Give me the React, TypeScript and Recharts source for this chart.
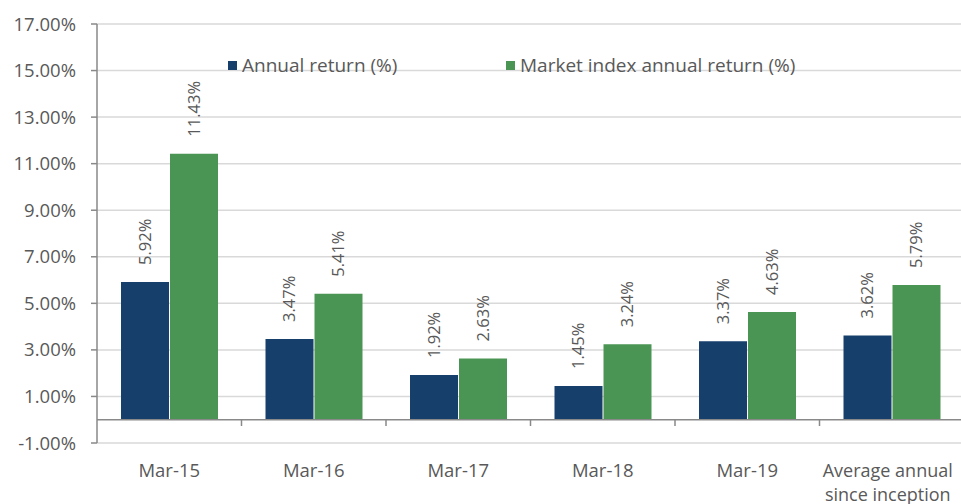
import React from 'react';
import { BarChart, Bar, XAxis, YAxis, CartesianGrid, ReferenceLine, LabelList, Legend } from 'recharts';

const categories = ['Mar-15', 'Mar-16', 'Mar-17', 'Mar-18', 'Mar-19', 'Average annual\nsince inception'];
const annualReturn = [5.92, 3.47, 1.92, 1.45, 3.37, 3.62];
const marketReturn = [11.43, 5.41, 2.63, 3.24, 4.63, 5.79];
const yTicks = [-1, 1, 3, 5, 7, 9, 11, 13, 15, 17];
const seriesNames = ['Annual return (%)', 'Market index annual return (%)'];
const seriesColors = ['#163F6B', '#4A9553'];

const FONT = '"Open Sans", "Noto Sans", sans-serif';
const TEXT = '#595959';
const AXIS = '#898989';

const data = categories.map((c, i) => ({ category: c, annual: annualReturn[i], market: marketReturn[i] }));

const XTick = (props: any) => {
  const { x, y, payload } = props;
  const lines = String(payload.value).split('\n');
  const multi = lines.length > 1;
  const cx = multi ? Number(x) - 4 : Number(x);
  return (
    <g>
      {lines.map((l, i) => (
        <text
          key={i}
          x={cx}
          y={Number(y) + 33.5 + i * 24}
          textAnchor="middle"
          fill={TEXT}
          fontSize={multi ? 18 : 18.5}
          fontFamily={FONT}
        >
          {l}
        </text>
      ))}
    </g>
  );
};

const RotLabel = (props: any) => {
  const { x, y, width, value } = props;
  const cx = Number(x) + Number(width) / 2;
  const ty = Number(y) - 17;
  return (
    <text
      x={cx}
      y={ty}
      transform={`rotate(-90, ${cx}, ${ty})`}
      textAnchor="start"
      dy="0.36em"
      fill={TEXT}
      fontSize={16.5}
      fontFamily={FONT}
    >
      {`${Number(value).toFixed(2)}%`}
    </text>
  );
};

const LegendContent = () => (
  <div style={{ display: 'flex', alignItems: 'center', fontFamily: FONT, fontSize: 19, lineHeight: '26px', color: TEXT, whiteSpace: 'nowrap' }}>
    {seriesNames.map((n, i) => (
      <div key={n} style={{ display: 'flex', alignItems: 'center', width: i === 0 ? 278 : 'auto' }}>
        <span style={{ display: 'inline-block', width: 9, height: 9, background: seriesColors[i], marginRight: 5 }} />
        <span>{n}</span>
      </div>
    ))}
  </div>
);

export default function App() {
  return (
    <div style={{ position: 'absolute', left: 0, top: 0, width: 961, height: 504, overflow: 'hidden', background: '#fff' }}>
      <BarChart
        width={964}
        height={504}
        data={data}
        margin={{ top: 24, right: 0, bottom: 0, left: 0 }}
        barCategoryGap={24}
        barGap={1}
      >
        <CartesianGrid vertical={false} stroke="#d9d9d9" strokeWidth={1.5} />
        <XAxis
          dataKey="category"
          axisLine={false}
          tickLine={false}
          tickSize={0}
          tickMargin={0}
          height={61}
          interval={0}
          tick={<XTick />}
        />
        <YAxis
          width={97}
          domain={[-1, 17]}
          ticks={yTicks}
          interval={0}
          tickFormatter={(v: number) => `${v.toFixed(2)}%`}
          axisLine={{ stroke: AXIS, strokeWidth: 1.5 }}
          tickLine={{ stroke: AXIS, strokeWidth: 1.5 }}
          tickSize={6}
          tickMargin={15}
          tick={{ fill: TEXT, fontSize: 18.5, fontFamily: FONT }}
        />
        <Legend
          layout="horizontal"
          verticalAlign="middle"
          align="center"
          wrapperStyle={{ position: 'absolute', top: 52, left: 228, width: 620, height: 26 }}
          content={<LegendContent />}
        />
        <Bar dataKey="annual" name={seriesNames[0]} fill={seriesColors[0]} isAnimationActive={false}>
          <LabelList dataKey="annual" content={<RotLabel />} />
        </Bar>
        <Bar dataKey="market" name={seriesNames[1]} fill={seriesColors[1]} isAnimationActive={false}>
          <LabelList dataKey="market" content={<RotLabel />} />
        </Bar>
        <ReferenceLine y={0} stroke={AXIS} strokeWidth={1.5} />
        {categories.slice(1).map((c) => (
          <ReferenceLine
            key={c}
            segment={[{ x: c, y: 0 }, { x: c, y: -0.27 }]}
            position="start"
            stroke={AXIS}
            strokeWidth={1.5}
          />
        ))}
      </BarChart>
    </div>
  );
}
